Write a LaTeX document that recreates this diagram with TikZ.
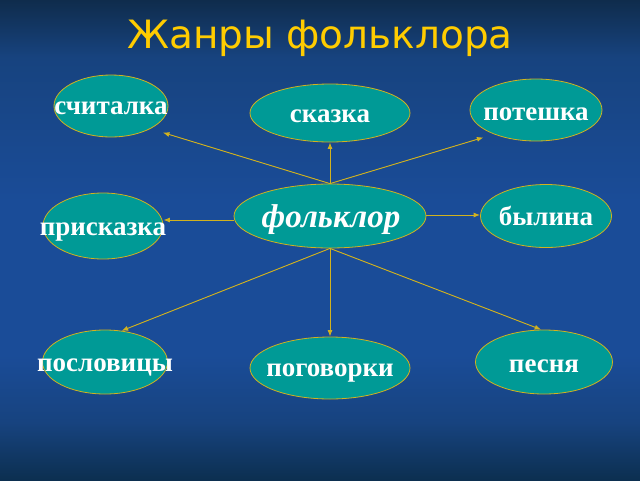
\documentclass[tikz,border=0pt]{standalone}
\usepackage{fontspec}
\setmainfont{Liberation Serif}
\newfontfamily\titlefont{DejaVu Sans}
\usetikzlibrary{arrows.meta,shapes.geometric}
\definecolor{bgtop}{HTML}{0F2C4C}
\definecolor{bgmid}{HTML}{1A4C98}
\definecolor{bgmidb}{HTML}{17437F}
\definecolor{bgbot}{HTML}{0C2F50}
\definecolor{tealfill}{HTML}{009A96}
\definecolor{lineyel}{HTML}{D2B21E}
\definecolor{titleyel}{HTML}{FFCC00}
\pgfdeclareverticalshading{bgshade}{100bp}{color(0bp)=(bgbot); color(25bp)=(bgbot); color(31bp)=(bgmidb); color(38bp)=(bgmid); color(54bp)=(bgmid); color(69bp)=(bgmidb); color(75bp)=(bgtop); color(100bp)=(bgtop)}
\begin{document}
\begin{tikzpicture}[x=1pt,y=-1pt,>={Latex[length=6.5pt,width=5pt]},
    genre/.style={ellipse,draw=lineyel,line width=0.8pt,fill=tealfill,inner sep=0pt},
    lbl/.style={text=white,inner sep=0pt,font=\bfseries\fontsize{27}{27}\selectfont},
    conn/.style={->,draw=lineyel,fill=lineyel,line width=0.9pt}]
  % 背景
  \shade[shading=bgshade] (0,0) rectangle (640,480);
  \useasboundingbox (0,0) rectangle (640,480);
  % タイトル
  \node[text=titleyel,inner sep=0pt,font=\titlefont\fontsize{39}{39}\selectfont] (title) at (320,38) {Жанры фольклора};
  % 楕円
  \node[genre,minimum width=114pt,minimum height=62pt] (sch) at (111,106) {};
  \node[genre,minimum width=160pt,minimum height=58pt] (skaz) at (330,113) {};
  \node[genre,minimum width=132pt,minimum height=62pt] (pot) at (536,110) {};
  \node[genre,minimum width=192pt,minimum height=64pt] (folk) at (330,216) {};
  \node[genre,minimum width=120pt,minimum height=66pt] (pris) at (103,226) {};
  \node[genre,minimum width=131pt,minimum height=63pt] (byl) at (546,216) {};
  \node[genre,minimum width=125pt,minimum height=64pt] (posl) at (105,362) {};
  \node[genre,minimum width=160pt,minimum height=62pt] (pog) at (330,368) {};
  \node[genre,minimum width=137pt,minimum height=64pt] (pes) at (544,362) {};
  % 文字
  \node[lbl] (schT) at (111,108) {считалка};
  \node[lbl] (skazT) at (330,116) {сказка};
  \node[lbl] (potT) at (536,114) {потешка};
  \node[lbl,font=\bfseries\itshape\fontsize{33}{33}\selectfont] (folkT) at (331,220) {фольклор};
  \node[lbl] (prisT) at (103,232) {присказка};
  \node[lbl] (bylT) at (546,216) {былина};
  \node[lbl] (poslT) at (105,367) {пословицы};
  \node[lbl] (pogT) at (330,373) {поговорки};
  \node[lbl] (pesT) at (544,366) {песня};
  % 矢印
  \draw[conn,shorten >=13pt] (folk.north) -- (sch.-30);
  \draw[conn] (folk.north) -- (skaz.south);
  \draw[conn,shorten >=11pt] (folk.north) -- (pot.210);
  \draw[conn] ([yshift=-4pt]folk.west) -- ([yshift=-4pt]pris.east |- folk.west);
  \draw[conn] ([yshift=1pt]folk.east) -- ([yshift=1pt]byl.west);
  \draw[conn] (folk.south) -- (posl.62);
  \draw[conn] (folk.south) -- (pog.north);
  \draw[conn] (folk.south) -- (pes.95);
\end{tikzpicture}
\end{document}
